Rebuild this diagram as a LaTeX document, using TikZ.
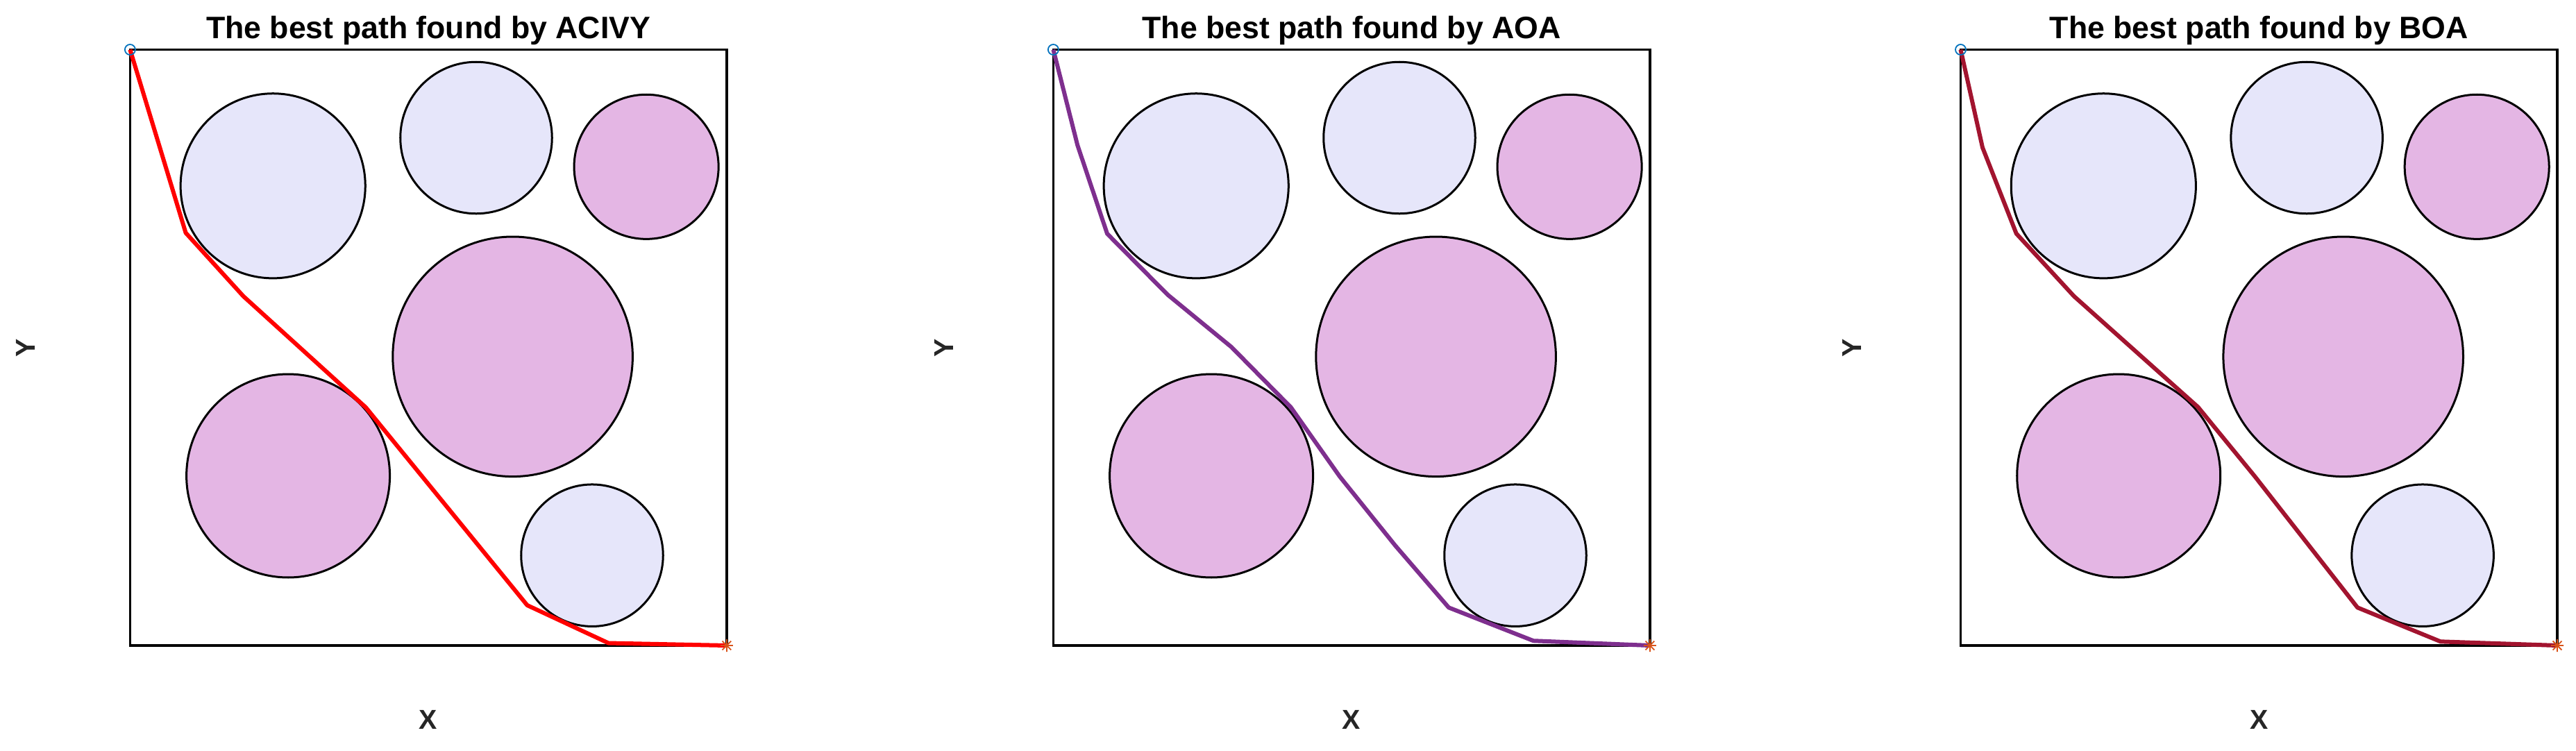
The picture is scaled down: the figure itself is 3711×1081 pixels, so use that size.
\documentclass[tikz,border=0pt]{standalone}
\usepackage{fontspec}
\setmainfont{Liberation Sans}
\definecolor{lav}{RGB}{230,230,250}
\definecolor{pnk}{RGB}{228,182,228}
\definecolor{lbl}{RGB}{38,38,38}
\definecolor{acivy}{RGB}{255,0,0}
\definecolor{aoa}{RGB}{126,47,142}
\definecolor{boa}{RGB}{162,20,47}
\definecolor{mblue}{RGB}{0,114,189}
\definecolor{morange}{RGB}{217,83,25}
\tikzset{
 frame/.style={draw=black, line width=0.32mm},
 obs/.style={draw=black, line width=0.3mm},
 route/.style={line width=0.6mm, line join=round},
 ttl/.style={font=\fontsize{12.7}{15}\selectfont\bfseries, anchor=base, inner sep=0pt},
 axl/.style={font=\fontsize{11.2}{13}\selectfont\bfseries, text=lbl, inner sep=0pt},
 startmk/.style={draw=mblue, line width=0.18mm},
 endmk/.style={draw=morange, line width=0.18mm},
}
\newcommand\obstacles{%
 \draw[obs, fill=lav] (205.8,196.3) circle[radius=1.33cm];
 \draw[obs, fill=lav] (498.6,127) circle[radius=1.092cm];
 \draw[obs, fill=pnk] (743.7,168.8) circle[radius=1.04cm];
 \draw[obs, fill=pnk] (551.2,442.3) circle[radius=1.727cm];
 \draw[obs, fill=pnk] (227.7,614) circle[radius=1.464cm];
 \draw[obs, fill=lav] (665.6,728.7) circle[radius=1.022cm];
}
\newcommand\markers[2]{%
 \draw[startmk] (#1) circle[radius=0.75mm];
 \draw[endmk] (#2) +(-0.9mm,0) -- +(0.9mm,0) +(0,-0.9mm) -- +(0,0.9mm)
   +(-0.64mm,-0.64mm) -- +(0.64mm,0.64mm) +(-0.64mm,0.64mm) -- +(0.64mm,-0.64mm);
}
\begin{document}
\begin{tikzpicture}[x=0.01cm, y=-0.01cm]
\useasboundingbox (0,0) rectangle (3711,1081);

% ---------- Panel 1: ACIVY ----------
\begin{scope}[shift={(187.4,71.5)}]
 \draw[frame] (0,0) rectangle (859.5,858.5);
 \obstacles
 \coordinate (s1) at (0,0);
 \coordinate (e1) at (859.5,858.5);
 \draw[route, acivy] (s1) -- (80.2,264) -- (163.1,355.2) -- (339.6,515.5)
   -- (572.1,800.5) -- (689.1,855) -- (e1);
 \markers{s1}{e1}
 \node[ttl] (t1) at (429.7,-16.5) {The best path found by ACIVY};
 \node[axl] (x1) at (429.7,965.5) {X};
 \node[axl, rotate=90] (y1) at (-150,429.5) {Y};
\end{scope}

% ---------- Panel 2: AOA ----------
\begin{scope}[shift={(1517.4,71.5)}]
 \draw[frame] (0,0) rectangle (859.5,858.5);
 \obstacles
 \coordinate (s2) at (0,0);
 \coordinate (e2) at (859.5,858.5);
 \draw[route, aoa] (s2) -- (34.8,137.5) -- (77.6,265.2) -- (164.6,353)
   -- (256.6,428.5) -- (342.2,515.3) -- (412.6,615) -- (492.6,714.5)
   -- (569.6,803.8) -- (691.6,851.7) -- (e2);
 \markers{s2}{e2}
 \node[ttl] (t2) at (429.7,-16.5) {The best path found by AOA};
 \node[axl] (x2) at (429.7,965.5) {X};
 \node[axl, rotate=90] (y2) at (-157,429.5) {Y};
\end{scope}

% ---------- Panel 3: BOA ----------
\begin{scope}[shift={(2824.5,71.5)}]
 \draw[frame] (0,0) rectangle (859.5,858.5);
 \obstacles
 \coordinate (s3) at (0,0);
 \coordinate (e3) at (859.5,858.5);
 \draw[route, boa] (s3) -- (31.5,141) -- (80.2,265) -- (163.2,355.2)
   -- (342,515) -- (423.9,615) -- (571.7,803.8) -- (691.3,852.8) -- (e3);
 \markers{s3}{e3}
 \node[ttl] (t3) at (429.7,-16.5) {The best path found by BOA};
 \node[axl] (x3) at (429.7,965.5) {X};
 \node[axl, rotate=90] (y3) at (-157,429.5) {Y};
\end{scope}
\end{tikzpicture}
\end{document}
